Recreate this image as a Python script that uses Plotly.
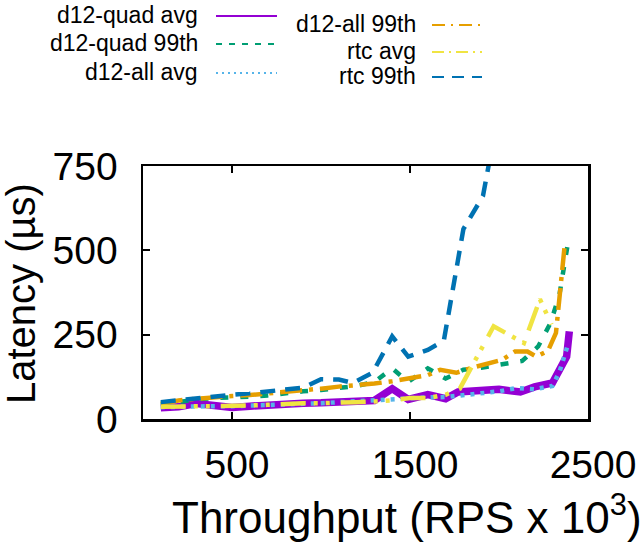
import plotly.graph_objects as go

# ---------------- data ----------------
quad_avg_x = [100, 200, 300, 400, 500, 600, 700, 800, 900, 1000, 1100, 1200, 1300, 1400, 1490, 1600, 1700, 1770, 1900, 2000, 2120, 2200, 2300, 2380, 2395]
quad_avg_y = [33, 36, 46, 38, 34, 38, 42, 45, 47, 48, 50, 52, 55, 90, 58, 72, 60, 80, 84, 88, 80, 95, 107, 185, 260]

quad_99_x = [100, 200, 300, 400, 500, 600, 700, 800, 900, 1000, 1100, 1200, 1300, 1400, 1490, 1600, 1700, 1800, 1900, 2000, 2130, 2220, 2290, 2340, 2370, 2393]
quad_99_y = [42, 50, 58, 62, 63, 66, 70, 77, 82, 86, 92, 98, 110, 150, 110, 150, 120, 146, 152, 160, 172, 215, 285, 370, 460, 540]

all_avg_x = [100, 200, 300, 400, 500, 600, 700, 800, 900, 1000, 1100, 1200, 1300, 1400, 1500, 1600, 1700, 1800, 1900, 2000, 2100, 2200, 2300, 2340, 2390]
all_avg_y = [35, 37, 38, 38, 38, 39, 40, 42, 45, 47, 50, 52, 55, 58, 64, 64, 65, 70, 75, 82, 92, 88, 98, 140, 225]

all_99_x = [100, 200, 300, 400, 500, 600, 700, 800, 900, 1000, 1100, 1200, 1300, 1400, 1500, 1600, 1670, 1760, 1850, 1950, 2020, 2090, 2160, 2210, 2275, 2320, 2370]
all_99_y = [45, 55, 60, 65, 68, 71, 75, 80, 83, 90, 96, 100, 105, 112, 120, 130, 146, 137, 152, 168, 176, 200, 200, 185, 202, 255, 520]

rtc_avg_x = [100, 200, 300, 400, 500, 600, 700, 800, 900, 1000, 1100, 1200, 1300, 1400, 1500, 1600, 1700, 1780, 1970, 2140, 2230, 2295]
rtc_avg_y = [36, 38, 38, 38, 38, 40, 42, 45, 47, 47, 50, 50, 52, 55, 62, 62, 72, 90, 275, 225, 355, 280]

rtc_99_x = [100, 200, 300, 400, 500, 600, 700, 800, 900, 1000, 1100, 1180, 1290, 1400, 1490, 1600, 1690, 1800, 1910, 1980]
rtc_99_y = [50, 56, 62, 67, 72, 76, 82, 87, 93, 118, 117, 107, 137, 245, 185, 205, 232, 563, 661, 860]

series_names = ["d12-quad avg", "d12-quad 99th", "d12-all avg", "d12-all 99th", "rtc avg", "rtc 99th"]
x_tick_vals = [500, 1500, 2500]
y_tick_vals = [0, 250, 500, 750]

# ---------------- styles ----------------
colors = ["#9400d3", "#009e73", "#56b4e9", "#e69f00", "#f0e442", "#0072b2"]
widths = [7.5, 4.5, 4.5, 4.5, 4.5, 4.5]
dashes = ["solid", "8px,12px", "4px,6px", "22px,7px,4px,7px", "25px,8px,4px,8px,4px,11px", "15px,10px"]
legend_dashes = ["solid", "6px,7px", "2px,4px", "13px,6px,2px,6px", "12px,5px,2px,5px", "12px,8px"]

data_x = [quad_avg_x, quad_99_x, all_avg_x, all_99_x, rtc_avg_x, rtc_99_x]
data_y = [quad_avg_y, quad_99_y, all_avg_y, all_99_y, rtc_avg_y, rtc_99_y]

FONT = "Liberation Sans, Arial, Helvetica, sans-serif"
W, H = 643, 552
L, R, T, B = 143, 55, 166, 133
PW, PH = W - L - R, H - T - B

fig = go.Figure()
for xs, ys, c, w, d, n in zip(data_x, data_y, colors, widths, dashes, series_names):
    fig.add_trace(go.Scatter(x=xs, y=ys, mode="lines", name=n,
                             line=dict(color=c, width=w, dash=d), showlegend=False,
                             hoverinfo="skip"))

def px2x(px):
    return (px - L) / PW

def py2y(py):
    return (H - B - py) / PH

# manual gnuplot-style legend (text right-aligned, sample to the right)
legend_rows = [
    (200, 216, 277, 16),
    (200, 216, 277, 44),
    (200, 216, 277, 73),
    (418, 432, 482, 25),
    (418, 432, 482, 52),
    (418, 432, 482, 77),
]
TEXT_DY = -1
annotations = []
shapes = []
for (tx, x0, x1, yy), n, c, d in zip(legend_rows, series_names, colors, legend_dashes):
    annotations.append(dict(text=n, x=px2x(tx), y=py2y(yy + TEXT_DY), xref="paper", yref="paper",
                            xanchor="right", yanchor="middle", showarrow=False,
                            font=dict(family=FONT, size=23, color="black")))
    shapes.append(dict(type="line", xref="paper", yref="paper",
                       x0=px2x(x0), x1=px2x(x1), y0=py2y(yy), y1=py2y(yy),
                       line=dict(color=c, width=2, dash=d)))

# axis titles
annotations.append(dict(text="Throughput (RPS x 10<sup>3</sup>)", x=px2x(407), y=py2y(514),
                        xref="paper", yref="paper", xanchor="center", yanchor="middle",
                        showarrow=False, font=dict(family=FONT, size=44, color="black")))
annotations.append(dict(text="Latency (µs)", x=px2x(21), y=py2y(294), textangle=-90,
                        xref="paper", yref="paper", xanchor="center", yanchor="middle",
                        showarrow=False, font=dict(family=FONT, size=40, color="black")))

axis_common = dict(showgrid=False, zeroline=False, showline=True, linecolor="black",
                   linewidth=2.5, mirror="ticks", ticks="inside", ticklen=7, tickwidth=2,
                   tickcolor="black", automargin=False,
                   tickfont=dict(family=FONT, size=39, color="black"))

fig.update_layout(
    width=W, height=H,
    margin=dict(l=L, r=R, t=T, b=B),
    paper_bgcolor="white", plot_bgcolor="white",
    hovermode=False,
    xaxis=dict(range=[0, 2500], tickvals=x_tick_vals, ticklabelstandoff=10, ticklabelshift=5,
               **axis_common),
    yaxis=dict(range=[0, 750], tickvals=y_tick_vals, ticklabelstandoff=15, **axis_common),
    annotations=annotations,
    shapes=shapes,
)

fig.write_html("out.html",
               config={"displayModeBar": False, "staticPlot": True},
               post_script="document.body.style.margin='0';document.body.style.overflow='hidden';")
